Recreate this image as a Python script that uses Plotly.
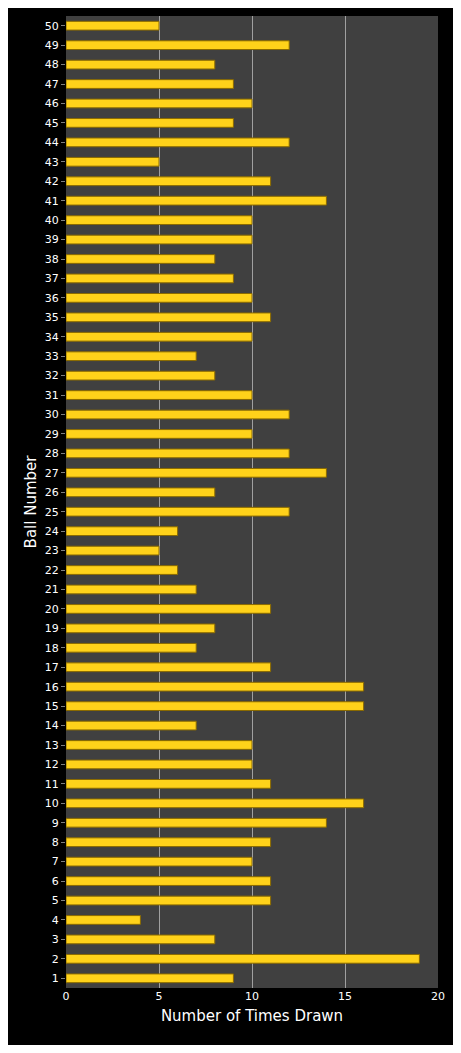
import plotly.graph_objects as go

balls = list(range(1, 51))
counts = [9, 19, 8, 4, 11, 11, 10, 11, 14, 16,
          11, 10, 10, 7, 16, 16, 11, 7, 8, 11,
          7, 6, 5, 6, 12, 8, 14, 12, 10, 12,
          10, 8, 7, 10, 11, 10, 9, 8, 10, 10,
          14, 11, 5, 12, 9, 10, 9, 8, 12, 5]

fig = go.Figure(go.Bar(
    x=counts, y=balls, orientation="h",
    marker=dict(color="#FFD21A", line=dict(color="#8A6A00", width=1)),
    width=0.45,
))
fig.update_layout(
    width=445, height=1037,
    paper_bgcolor="black", plot_bgcolor="#404040",
    margin=dict(l=58, r=12, t=8, b=57),
    font=dict(family="Verdana, DejaVu Sans", color="white", size=11),
    showlegend=False,
)
fig.update_xaxes(range=[0, 20], tickvals=[0, 5, 10, 15, 20], showgrid=True,
                 gridcolor="#A0A0A0", gridwidth=1, zeroline=False,
                 title=dict(text="Number of Times Drawn", font=dict(size=15), standoff=8),
                 ticks="", showline=False)
fig.update_yaxes(range=[0.5, 50.5], tickvals=balls, showgrid=False, zeroline=False,
                 title=dict(text="Ball Number", font=dict(size=15), standoff=4),
                 ticks="outside", ticklen=4, tickcolor="#808080")
fig.write_html("out.html")
